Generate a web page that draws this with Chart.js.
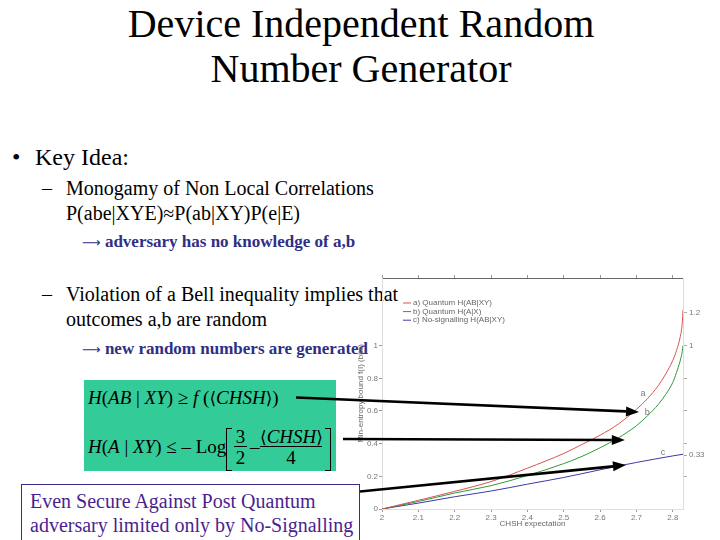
<!DOCTYPE html>
<html><head><meta charset="utf-8">
<script src="https://cdn.jsdelivr.net/npm/chart.js@4.4.1/dist/chart.umd.min.js"></script>
<style>
html,body{margin:0;padding:0;background:#fff;}
#page{position:relative;width:720px;height:540px;overflow:hidden;font-family:"Liberation Serif","Times New Roman",serif;color:#000;}
.t{position:absolute;white-space:nowrap;line-height:1;}
.blue{color:#2f2f85;font-weight:bold;}
.arr{font-family:"DejaVu Sans",sans-serif;font-weight:normal;font-size:13px;}
.ang{font-family:"DejaVu Serif","DejaVu Sans",serif;font-style:normal;font-size:17px;}
.br{position:absolute;border:1.3px solid #000;}
#c{position:absolute;left:0;top:0;width:720px;height:540px;}
</style></head><body>
<div id="page">
  <div class="t" style="left:0;width:722px;text-align:center;top:3.5px;font-size:40px">Device Independent Random</div>
  <div class="t" style="left:0;width:722px;text-align:center;top:48.5px;font-size:40px">Number Generator</div>

  <div class="t" style="left:12px;top:145px;font-size:24px">•</div>
  <div class="t" style="left:35px;top:145px;font-size:24px">Key Idea:</div>

  <div class="t" style="left:42px;top:178px;font-size:20px">–</div>
  <div class="t" style="left:66px;top:178px;font-size:20px">Monogamy of Non Local Correlations</div>
  <div class="t" style="left:66px;top:203px;font-size:20px">P(abe|XYE)≈P(ab|XY)P(e|E)</div>
  <div class="t blue" style="left:82px;top:233px;font-size:17px"><span class="arr">⟶</span> adversary has no knowledge of a,b</div>

  <div class="t" style="left:42px;top:284px;font-size:20px">–</div>
  <div class="t" style="left:66px;top:284px;font-size:20px">Violation of a Bell inequality implies that</div>
  <div class="t" style="left:66px;top:309px;font-size:20px">outcomes a,b are random</div>
  <div class="t blue" style="left:82px;top:340px;font-size:17px"><span class="arr">⟶</span> new random numbers are generated</div>

  <div style="position:absolute;left:84px;top:380px;width:252px;height:91px;background:#33cc99"></div>
  <div class="t" style="left:88px;top:388px;font-size:19px"><i>H</i>(<i>AB</i> | <i>XY</i>) ≥ <i>f</i> (<span class="ang">⟨</span><i>CHSH</i><span class="ang">⟩</span>)</div>
  <div class="t" style="left:88px;top:437px;font-size:19px"><i>H</i>(<i>A</i> | <i>XY</i>) ≤ – Log</div>
  <div class="br" style="left:226px;top:428px;width:5px;height:41px;border-right:none"></div>
  <div class="br" style="left:325px;top:428px;width:5px;height:41px;border-left:none"></div>
  <div class="t" style="left:234px;top:427px;width:13px;text-align:center;font-size:19px">3</div>
  <div style="position:absolute;left:234px;top:446px;width:13px;height:1.3px;background:#000"></div>
  <div class="t" style="left:234px;top:448px;width:13px;text-align:center;font-size:19px">2</div>
  <div class="t" style="left:250px;top:437px;font-size:19px">–</div>
  <div class="t" style="left:260px;top:427px;width:62px;text-align:center;font-size:19px"><span class="ang">⟨</span><i>CHSH</i><span class="ang">⟩</span></div>
  <div style="position:absolute;left:260px;top:446px;width:62px;height:1.3px;background:#000"></div>
  <div class="t" style="left:260px;top:448px;width:62px;text-align:center;font-size:19px">4</div>

  <div style="position:absolute;left:21px;top:484px;width:337px;height:80px;border:1px solid #3d2a8a;background:#fff"></div>
  <div class="t" style="left:30px;top:491px;font-size:20px;color:#4b1f8f">Even Secure Against Post Quantum</div>
  <div class="t" style="left:30px;top:515px;font-size:20px;color:#4b1f8f">adversary limited only by No-Signalling</div>

  <canvas id="c" width="720" height="540"></canvas>
</div>
<script>
// ---- data ----
const chshQ = [2.0, 2.1, 2.2, 2.3, 2.4, 2.5, 2.55, 2.6, 2.65, 2.7, 2.73, 2.76, 2.78, 2.8, 2.81, 2.82, 2.826, 2.828];
const quantumAB = [0, 0.053, 0.108, 0.168, 0.25, 0.34, 0.395, 0.452, 0.52, 0.61, 0.675, 0.755, 0.825, 0.91, 0.97, 1.05, 1.14, 1.22];
const quantumA  = [0, 0.046, 0.098, 0.143, 0.205, 0.278, 0.322, 0.375, 0.435, 0.51, 0.57, 0.64, 0.70, 0.775, 0.835, 0.905, 0.965, 1.0];
const chshNS = [2.0, 2.1, 2.2, 2.3, 2.4, 2.5, 2.6, 2.7, 2.8, 2.828];
const noSignalAB = [0, 0.036, 0.075, 0.11, 0.152, 0.193, 0.24, 0.285, 0.325, 0.335];
const seriesLabels = ['a) Quantum H(AB|XY)', 'b) Quantum H(A|X)', 'c) No-signalling H(AB|XY)'];
const xTicks = [2, 2.1, 2.2, 2.3, 2.4, 2.5, 2.6, 2.7, 2.8];
const yTicks = [0, 0.2, 0.4, 0.6, 0.8, 1];
const rightTicks = [0.2, 0.33, 0.4, 0.6, 0.8, 1, 1.2];
const rightLabels = [0.33, 1, 1.2];
const curveLabels = [{t:'a', x:2.718, y:0.704}, {t:'b', x:2.73, y:0.588}, {t:'c', x:2.773, y:0.345}];
const arrowTargets = [{x:2.707, y:0.594}, {x:2.668, y:0.4225}, {x:2.671, y:0.269}];

const pts = (xs, ys) => xs.map((v, i) => ({x: v, y: ys[i]}));
const tickFont = {family: '"Liberation Sans", Arial, sans-serif', size: 8};
const tickColor = '#777';

const overlay = {
  id: 'overlay',
  afterDraw(chart) {
    const {ctx, chartArea: ca, scales: {x, y}} = chart;
    ctx.save();
    ctx.font = '8px "Liberation Sans", Arial, sans-serif';
    ctx.textBaseline = 'middle';
    chart.data.datasets.forEach((ds, i) => {
      const yy = ca.top + 25 + i * 8.6;
      ctx.strokeStyle = ds.borderColor; ctx.lineWidth = 1;
      ctx.beginPath(); ctx.moveTo(ca.left + 21, yy); ctx.lineTo(ca.left + 29, yy); ctx.stroke();
      ctx.fillStyle = '#666';
      ctx.fillText(ds.label, ca.left + 31, yy);
    });
    ctx.font = '9px "Liberation Sans", Arial, sans-serif';
    ctx.fillStyle = '#777';
    ctx.textAlign = 'center';
    curveLabels.forEach(l => ctx.fillText(l.t, x.getPixelForValue(l.x), y.getPixelForValue(l.y)));
    // arrows from the formulas to the curves
    const tails = [[296, 397.5], [343, 439], [360, 491.5]];
    ctx.fillStyle = '#000'; ctx.strokeStyle = '#000'; ctx.lineWidth = 2.6;
    arrowTargets.forEach((a, i) => {
      const tx = x.getPixelForValue(a.x), ty = y.getPixelForValue(a.y);
      const [sx, sy] = tails[i];
      const ang = Math.atan2(ty - sy, tx - sx);
      const hl = 13, hw = 5;
      const bx = tx - hl * Math.cos(ang), by = ty - hl * Math.sin(ang);
      ctx.beginPath(); ctx.moveTo(sx, sy); ctx.lineTo(bx, by); ctx.stroke();
      ctx.beginPath();
      ctx.moveTo(tx, ty);
      ctx.lineTo(bx + hw * Math.sin(ang), by - hw * Math.cos(ang));
      ctx.lineTo(bx - hw * Math.sin(ang), by + hw * Math.cos(ang));
      ctx.closePath(); ctx.fill();
    });
    ctx.restore();
  }
};

new Chart(document.getElementById('c'), {
  type: 'line',
  data: {
    datasets: [
      {label: seriesLabels[0], data: pts(chshQ, quantumAB), borderColor: '#d9534f', borderWidth: 1, pointRadius: 0, cubicInterpolationMode: 'monotone', xAxisID: 'x', yAxisID: 'y'},
      {label: seriesLabels[1], data: pts(chshQ, quantumA), borderColor: '#2f9a3a', borderWidth: 1, pointRadius: 0, cubicInterpolationMode: 'monotone', xAxisID: 'x', yAxisID: 'y'},
      {label: seriesLabels[2], data: pts(chshNS, noSignalAB), borderColor: '#3a3aa8', borderWidth: 1, pointRadius: 0, cubicInterpolationMode: 'monotone', xAxisID: 'x', yAxisID: 'y'}
    ]
  },
  options: {
    responsive: false,
    animation: false,
    events: [],
    layout: {padding: {left: 340, top: 268, right: 0, bottom: 0}},
    plugins: {legend: {display: false}, tooltip: {enabled: false}},
    scales: {
      x: {
        type: 'linear', position: 'bottom', min: 2, max: 2.828,
        afterBuildTicks: s => { s.ticks = xTicks.map(v => ({value: v})); },
        afterFit: s => { s.height = 31; },
        ticks: {font: tickFont, color: tickColor, padding: 1, maxRotation: 0, callback: v => String(v)},
        grid: {drawOnChartArea: false, drawTicks: true, tickLength: 3, color: '#999'},
        border: {display: true, color: '#ddd'},
        title: {display: true, text: 'CHSH expectation', font: tickFont, color: '#666', padding: {top: 0, bottom: 11}}
      },
      x2: {
        type: 'linear', position: 'top', min: 2, max: 2.828,
        afterBuildTicks: s => { s.ticks = xTicks.map(v => ({value: v})); },
        afterFit: s => { s.height = 10; },
        ticks: {display: false},
        grid: {drawOnChartArea: false, drawTicks: true, tickLength: 3, color: '#999'},
        border: {display: true, color: '#666'}
      },
      y: {
        type: 'linear', position: 'left', min: 0, max: 1.414,
        afterBuildTicks: s => { s.ticks = yTicks.map(v => ({value: v})); },
        afterFit: s => { s.width = 42; },
        ticks: {font: tickFont, color: tickColor, padding: 1, callback: v => String(v)},
        grid: {drawOnChartArea: false, drawTicks: true, tickLength: 3, color: '#999'},
        border: {display: true, color: '#ddd'},
        title: {display: true, text: 'Min-entropy bound f(I) (bits)', font: tickFont, color: '#666', padding: {top: 16, bottom: 0}}
      },
      y2: {
        type: 'linear', position: 'right', min: 0, max: 1.414,
        afterBuildTicks: s => { s.ticks = rightTicks.map(v => ({value: v})); },
        afterFit: s => { s.width = 37; },
        ticks: {font: tickFont, color: tickColor, padding: 2, callback: v => rightLabels.includes(v) ? String(v) : ''},
        grid: {drawOnChartArea: false, drawTicks: true, tickLength: 4, color: '#aaa'},
        border: {display: true, color: '#ddd'}
      }
    }
  },
  plugins: [overlay]
});
</script>
</body></html>
